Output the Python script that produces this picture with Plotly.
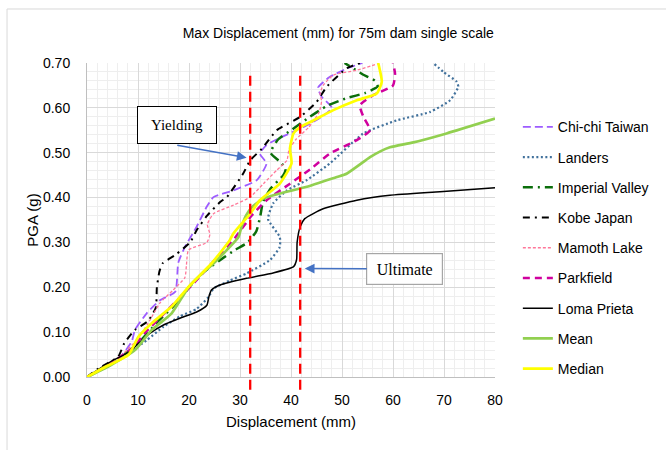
import plotly.graph_objects as go

# ---- data ----
chichi_x = [0, 3, 5.5, 7.1, 8.8, 9.4, 11.7, 14.3, 17.3, 17.9, 19.2, 21.5, 23.5, 24.8, 28.7, 33.3, 35.2, 33.9, 35.2, 37.8, 42.4, 46, 48, 46, 45.3, 47.5, 51, 54]
chichi_y = [0, 0.02, 0.035, 0.052, 0.08, 0.105, 0.142, 0.171, 0.19, 0.255, 0.29, 0.335, 0.38, 0.401, 0.416, 0.439, 0.476, 0.498, 0.517, 0.533, 0.557, 0.58, 0.6, 0.625, 0.645, 0.668, 0.688, 0.70]

landers_x = [0, 4, 7.1, 11.7, 15, 18.2, 21.5, 23.8, 24.8, 28, 31.3, 35.9, 37.8, 37.8, 35.5, 36.5, 39.2, 43.1, 47.6, 54.2, 60.7, 67.3, 71.2, 72.8, 72.5, 69.9, 67.9]
landers_y = [0, 0.025, 0.045, 0.082, 0.112, 0.135, 0.152, 0.178, 0.197, 0.215, 0.231, 0.261, 0.29, 0.312, 0.352, 0.387, 0.416, 0.439, 0.476, 0.543, 0.572, 0.591, 0.617, 0.647, 0.658, 0.68, 0.70]

imperial_x = [0, 5, 10, 14, 18, 20, 23, 26, 29, 31.5, 33.2, 34, 34.5, 36, 38.5, 39, 37.8, 36, 37.5, 40, 43.7, 47, 51, 54.5, 57, 56.5, 54, 50.5]
imperial_y = [0, 0.03, 0.075, 0.125, 0.17, 0.2, 0.235, 0.26, 0.283, 0.3, 0.325, 0.36, 0.39, 0.42, 0.45, 0.465, 0.48, 0.5, 0.53, 0.55, 0.58, 0.604, 0.622, 0.633, 0.648, 0.66, 0.675, 0.70]

kobe_x = [0, 2.2, 6.1, 7.3, 9.4, 12, 13.5, 13.7, 14.2, 14.8, 17.3, 20.2, 21.5, 23.5, 26.1, 27.4, 30.6, 32, 34.3, 37.2, 41.8, 45, 47, 50.9, 53.5]
kobe_y = [0, 0.019, 0.045, 0.075, 0.105, 0.125, 0.155, 0.2, 0.235, 0.253, 0.272, 0.3, 0.327, 0.359, 0.39, 0.401, 0.453, 0.483, 0.509, 0.55, 0.58, 0.613, 0.647, 0.688, 0.70]

mamoth_x = [0, 4, 7.1, 9.7, 12, 14.3, 16.9, 19.2, 19.5, 19.9, 23.5, 24.1, 23.6, 24.8, 28.7, 32, 34.6, 37.2, 39.2, 39.6, 41, 43.5, 45.5, 46, 45.7, 46.3, 48.3, 52.9, 57]
mamoth_y = [0, 0.025, 0.052, 0.082, 0.12, 0.165, 0.194, 0.222, 0.25, 0.283, 0.3, 0.318, 0.34, 0.364, 0.383, 0.401, 0.431, 0.461, 0.483, 0.506, 0.53, 0.557, 0.59, 0.615, 0.632, 0.65, 0.673, 0.684, 0.698]

parkfield_x = [0, 4, 9, 11.5, 15, 18, 21, 25, 29, 32.3, 35.2, 39.8, 44, 47.6, 52.9, 55.5, 54.2, 53.5, 56.1, 60, 60.4, 60]
parkfield_y = [0, 0.025, 0.065, 0.1, 0.14, 0.175, 0.21, 0.26, 0.31, 0.36, 0.394, 0.431, 0.465, 0.498, 0.528, 0.55, 0.58, 0.606, 0.628, 0.65, 0.676, 0.70]

loma_x = [0, 5.2, 8.4, 10.1, 12.3, 15, 18.2, 21.5, 23.5, 23.9, 24.4, 26.1, 31.3, 36.5, 40.5, 41.1, 41.2, 41.8, 42.7, 46.3, 52.9, 59.4, 69.2, 80]
loma_y = [0, 0.038, 0.056, 0.075, 0.097, 0.116, 0.131, 0.145, 0.16, 0.179, 0.194, 0.205, 0.22, 0.232, 0.246, 0.262, 0.3, 0.335, 0.353, 0.375, 0.394, 0.405, 0.413, 0.422]

mean_x = [0, 4, 9.4, 12.7, 16.6, 19.9, 22.5, 24.8, 28, 29.7, 30.3, 31.2, 32.3, 34.6, 37.8, 43.1, 49, 50.9, 55.5, 57.5, 59.4, 64, 70.5, 80]
mean_y = [0, 0.022, 0.06, 0.105, 0.142, 0.2, 0.23, 0.253, 0.29, 0.312, 0.335, 0.36, 0.378, 0.398, 0.409, 0.424, 0.446, 0.453, 0.49, 0.503, 0.512, 0.523, 0.543, 0.576]

median_x = [0, 4, 8.1, 10.1, 12.7, 16.6, 19.9, 24.4, 28, 28.7, 32, 33.9, 37.8, 40.1, 39.8, 40.5, 41.8, 44.4, 48.3, 52.9, 56.8, 57.8, 57.1]
median_y = [0, 0.025, 0.049, 0.09, 0.12, 0.157, 0.201, 0.253, 0.305, 0.32, 0.364, 0.394, 0.431, 0.476, 0.509, 0.543, 0.557, 0.572, 0.595, 0.617, 0.632, 0.658, 0.70]

yield_disp = 32.0
ultimate_disp = 41.8

series = [
    ("Chi-chi Taiwan", chichi_x, chichi_y, "#9d5cff", 1.8, "8px,4px"),
    ("Landers", landers_x, landers_y, "#41719c", 2.2, "2px,2.5px"),
    ("Imperial Valley", imperial_x, imperial_y, "#0b6e0b", 2.5, "10px,5px,2px,5px"),
    ("Kobe Japan", kobe_x, kobe_y, "#000000", 2.0, "7px,5px,2px,5px"),
    ("Mamoth Lake", mamoth_x, mamoth_y, "#ff7799", 1.3, "3px,2px"),
    ("Parkfield", parkfield_x, parkfield_y, "#d0009e", 2.5, "7px,5px"),
    ("Loma Prieta", loma_x, loma_y, "#000000", 1.5, "solid"),
    ("Mean", mean_x, mean_y, "#92d050", 2.7, "solid"),
    ("Median", median_x, median_y, "#ffff00", 2.7, "solid"),
]

FONT = "Liberation Sans, Arial, sans-serif"
SERIF = "Liberation Serif, Times New Roman, serif"

fig = go.Figure()
for i, (name, xs, ys, color, w, dash) in enumerate(series):
    fig.add_trace(go.Scatter(
        x=xs, y=ys, name=name, mode="lines", legendgroup=f"g{i}",
        line=dict(color=color, width=w, dash=dash, shape="spline", smoothing=0.5),
    ))

# vertical reference lines (yield & ultimate)
for xv in [yield_disp, ultimate_disp]:
    fig.add_shape(type="line", xref="x", yref="paper", x0=xv, x1=xv, y0=-0.041, y1=0.978,
                  line=dict(color="#ff0000", width=2.3, dash="10px,6px"), layer="above")

# chart outer border
fig.add_shape(type="rect", xref="paper", yref="paper", x0=-0.196, x1=1.5, y0=-0.3, y1=1.172,
              line=dict(color="#d9d9d9", width=1), layer="below")

# annotations
fig.add_annotation(x=yield_disp - 0.7, y=0.489, ax=17.4, ay=0.517, axref="x", ayref="y",
                   xref="x", yref="y", text="", showarrow=True, arrowhead=2, arrowsize=1.3,
                   arrowwidth=1.5, arrowcolor="#4472c4")
fig.add_annotation(x=17.65, y=0.561, xref="x", yref="y", text="Yielding", showarrow=False,
                   font=dict(family=SERIF, size=15, color="#000"), bgcolor="white",
                   bordercolor="#000", borderwidth=1, width=76, height=34, borderpad=1)
fig.add_annotation(x=ultimate_disp + 0.9, y=0.242, ax=62.3, ay=0.2405, axref="x", ayref="y",
                   xref="x", yref="y", text="Ultimate", showarrow=True, arrowhead=2, arrowsize=1.3,
                   arrowwidth=1.5, arrowcolor="#4472c4",
                   font=dict(family=SERIF, size=16, color="#000"), bgcolor="white",
                   bordercolor="#a6a6a6", borderwidth=1.2, width=73, height=28, borderpad=1)

fig.update_layout(
    width=666, height=450,
    margin=dict(l=87, r=171, t=63, b=73),
    paper_bgcolor="white", plot_bgcolor="white",
    font=dict(family=FONT, size=14, color="#000"),
    title=dict(text="Max Displacement (mm) for 75m dam single scale", x=0.508, xanchor="center",
               y=1 - 33 / 450, yanchor="middle", font=dict(family=FONT, size=14, color="#000")),
    showlegend=True,
    legend=dict(x=1.056, xanchor="left", y=0.846, yanchor="top", tracegroupgap=9,
                font=dict(family=FONT, size=14, color="#000"), bgcolor="rgba(0,0,0,0)",
                itemwidth=30),
    xaxis=dict(range=[0, 80], dtick=10, tick0=0, showgrid=True, gridcolor="#d9d9d9", gridwidth=1,
               minor=dict(dtick=2, showgrid=True, gridcolor="#eeeeee", gridwidth=1),
               showline=True, linecolor="#bfbfbf", linewidth=1, zeroline=False, ticks="",
               ticklabelstandoff=10, tickfont=dict(size=14),
               title=dict(text="Displacement (mm)", standoff=9, font=dict(size=15))),
    yaxis=dict(range=[0, 0.7], dtick=0.1, tick0=0, tickformat=".2f", showgrid=True,
               gridcolor="#d9d9d9", gridwidth=1,
               minor=dict(dtick=0.02, showgrid=True, gridcolor="#eeeeee", gridwidth=1),
               showline=True, linecolor="#bfbfbf", linewidth=1, zeroline=False, ticks="",
               ticklabelstandoff=13, tickfont=dict(size=14),
               title=dict(text="PGA (g)", standoff=0, font=dict(size=15))),
)

fig.write_html("out.html")
